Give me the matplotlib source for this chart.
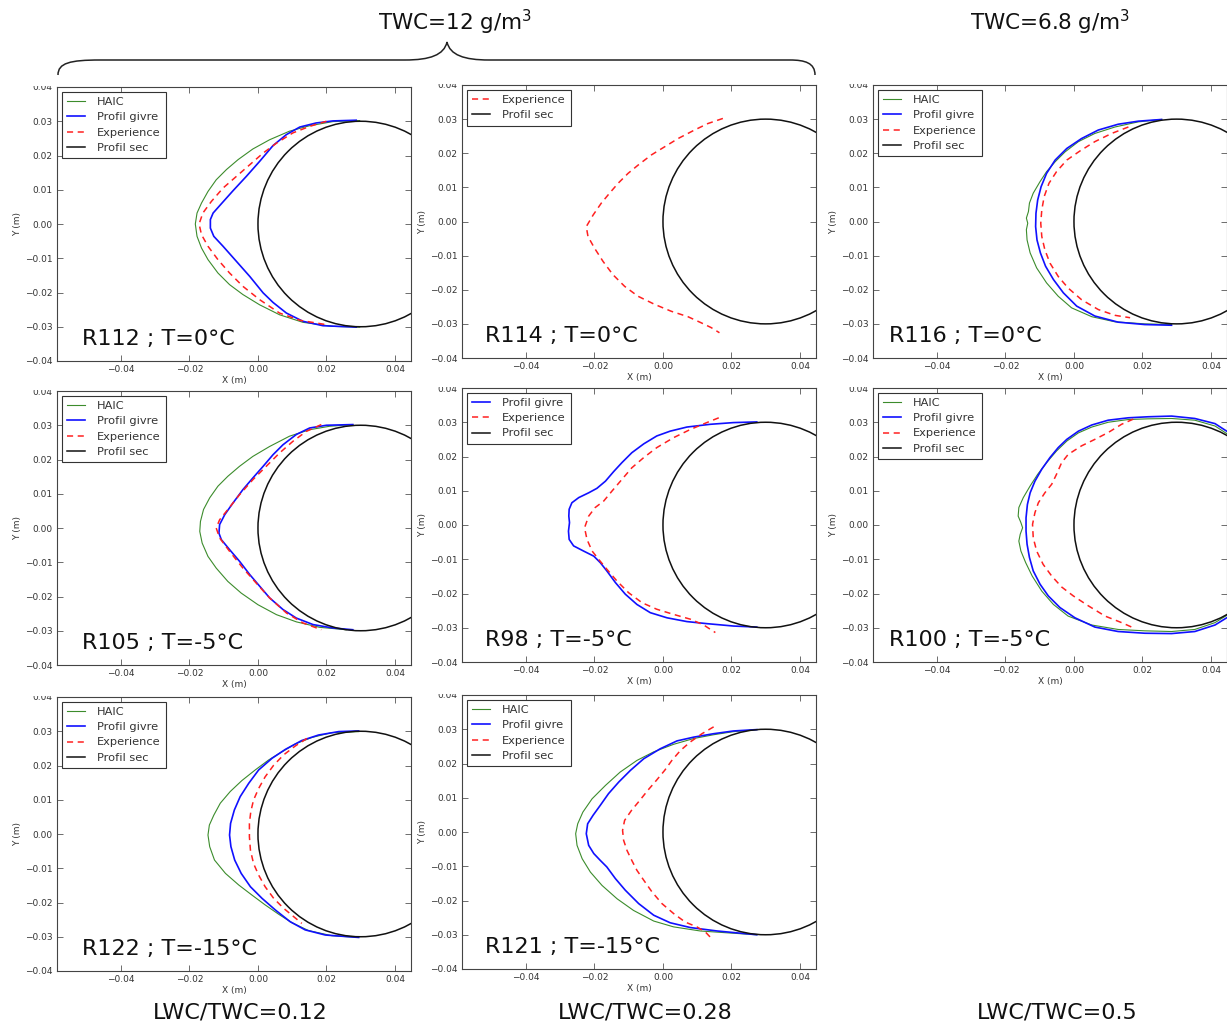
import matplotlib
matplotlib.use("Agg")
import matplotlib.pyplot as plt
from matplotlib.patches import Circle, PathPatch, Rectangle
from matplotlib.path import Path
from matplotlib.lines import Line2D

# ---------------- data (metres) ----------------
CYL_CENTER = (0.03, 0.0)
CYL_RADIUS = 0.03

# R112 ; T=0°C
R112_HAIC_X = [0.0297, 0.0219, 0.0151, 0.0092, 0.0034, -0.0015, -0.0058, -0.0092, -0.0122, -0.0146, -0.0165, -0.0178, -0.0183, -0.0178, -0.0165, -0.0146, -0.0117, -0.0083, -0.0044, 0.0005, 0.0063, 0.0131, 0.0219, 0.0297]
R112_HAIC_Y = [0.0302, 0.0299, 0.0287, 0.0271, 0.0246, 0.0219, 0.0188, 0.0159, 0.0129, 0.0095, 0.0061, 0.0032, 0.0000, -0.0036, -0.0070, -0.0104, -0.0143, -0.0177, -0.0206, -0.0236, -0.0265, -0.0287, -0.0299, -0.0301]
R112_GIVRE_X = [0.0287, 0.0219, 0.0170, 0.0122, 0.0083, 0.0044, 0.0005, -0.0034, -0.0073, -0.0107, -0.0131, -0.0139, -0.0139, -0.0129, -0.0102, -0.0063, -0.0024, 0.0015, 0.0044, 0.0083, 0.0131, 0.0190, 0.0287]
R112_GIVRE_Y = [0.0303, 0.0301, 0.0295, 0.0283, 0.0261, 0.0229, 0.0183, 0.0139, 0.0097, 0.0059, 0.0032, 0.0013, -0.0012, -0.0036, -0.0065, -0.0109, -0.0153, -0.0201, -0.0229, -0.0260, -0.0284, -0.0297, -0.0301]
R112_EXP_X = [0.0200, 0.0151, 0.0102, 0.0054, 0.0015, -0.0024, -0.0063, -0.0102, -0.0136, -0.0161, -0.0172, -0.0165, -0.0146, -0.0117, -0.0083, -0.0044, 0.0005, 0.0063, 0.0122, 0.0200]
R112_EXP_Y = [0.0300, 0.0285, 0.0266, 0.0236, 0.0207, 0.0173, 0.0139, 0.0105, 0.0066, 0.0032, 0.0000, -0.0031, -0.0065, -0.0104, -0.0143, -0.0182, -0.0221, -0.0260, -0.0281, -0.0294]

# R114 ; T=0°C
R114_EXP_X = [0.0175, 0.0131, 0.0092, 0.0044, 0.0005, -0.0034, -0.0073, -0.0102, -0.0131, -0.0156, -0.0180, -0.0204, -0.0224, -0.0219, -0.0200, -0.0175, -0.0146, -0.0112, -0.0073, -0.0024, 0.0024, 0.0073, 0.0112, 0.0141, 0.0165]
R114_EXP_Y = [0.0302, 0.0287, 0.0268, 0.0243, 0.0219, 0.0195, 0.0165, 0.0141, 0.0112, 0.0083, 0.0054, 0.0019, -0.0015, -0.0044, -0.0078, -0.0117, -0.0156, -0.0190, -0.0219, -0.0243, -0.0263, -0.0279, -0.0297, -0.0311, -0.0326]

# R116 ; T=0°C
R116_HAIC_X = [0.0256, 0.0188, 0.0120, 0.0061, 0.0013, -0.0026, -0.0055, -0.0080, -0.0099, -0.0119, -0.0130, -0.0133, -0.0139, -0.0135, -0.0139, -0.0137, -0.0128, -0.0109, -0.0080, -0.0046, -0.0007, 0.0052, 0.0120, 0.0207, 0.0285]
R116_HAIC_Y = [0.0299, 0.0292, 0.0277, 0.0258, 0.0234, 0.0204, 0.0175, 0.0146, 0.0117, 0.0083, 0.0054, 0.0029, 0.0010, -0.0005, -0.0024, -0.0054, -0.0092, -0.0136, -0.0180, -0.0219, -0.0253, -0.0279, -0.0294, -0.0300, -0.0302]
R116_GIVRE_X = [0.0256, 0.0188, 0.0129, 0.0071, 0.0022, -0.0021, -0.0055, -0.0080, -0.0096, -0.0106, -0.0111, -0.0112, -0.0108, -0.0098, -0.0083, -0.0060, -0.0031, 0.0008, 0.0061, 0.0129, 0.0207, 0.0285]
R116_GIVRE_Y = [0.0299, 0.0294, 0.0285, 0.0268, 0.0243, 0.0214, 0.0180, 0.0141, 0.0102, 0.0063, 0.0024, -0.0015, -0.0054, -0.0092, -0.0131, -0.0170, -0.0209, -0.0248, -0.0277, -0.0295, -0.0302, -0.0304]
R116_EXP_X = [0.0159, 0.0110, 0.0061, 0.0018, -0.0021, -0.0051, -0.0073, -0.0087, -0.0094, -0.0097, -0.0094, -0.0085, -0.0070, -0.0046, -0.0017, 0.0022, 0.0071, 0.0120, 0.0164]
R116_EXP_Y = [0.0277, 0.0258, 0.0234, 0.0207, 0.0180, 0.0146, 0.0112, 0.0073, 0.0034, -0.0005, -0.0044, -0.0083, -0.0122, -0.0161, -0.0195, -0.0229, -0.0258, -0.0275, -0.0282]

# R105 ; T=-5°C
R105_HAIC_X = [0.0277, 0.0209, 0.0151, 0.0092, 0.0034, -0.0015, -0.0054, -0.0088, -0.0117, -0.0141, -0.0159, -0.0168, -0.0170, -0.0163, -0.0146, -0.0122, -0.0088, -0.0049, 0.0000, 0.0054, 0.0112, 0.0180, 0.0258]
R105_HAIC_Y = [0.0302, 0.0297, 0.0287, 0.0268, 0.0238, 0.0209, 0.0180, 0.0151, 0.0122, 0.0088, 0.0054, 0.0019, -0.0010, -0.0044, -0.0083, -0.0117, -0.0156, -0.0190, -0.0224, -0.0253, -0.0274, -0.0290, -0.0297]
R105_GIVRE_X = [0.0277, 0.0200, 0.0151, 0.0112, 0.0073, 0.0044, 0.0015, -0.0015, -0.0044, -0.0073, -0.0097, -0.0112, -0.0114, -0.0107, -0.0083, -0.0054, -0.0024, 0.0005, 0.0034, 0.0073, 0.0112, 0.0161, 0.0219, 0.0277]
R105_GIVRE_Y = [0.0302, 0.0300, 0.0292, 0.0273, 0.0243, 0.0214, 0.0180, 0.0146, 0.0112, 0.0073, 0.0039, 0.0010, -0.0015, -0.0034, -0.0063, -0.0097, -0.0136, -0.0170, -0.0204, -0.0238, -0.0263, -0.0282, -0.0292, -0.0297]
R105_EXP_X = [0.0185, 0.0141, 0.0102, 0.0063, 0.0024, -0.0015, -0.0054, -0.0088, -0.0112, -0.0122, -0.0112, -0.0083, -0.0044, -0.0005, 0.0034, 0.0083, 0.0131, 0.0185]
R105_EXP_Y = [0.0302, 0.0282, 0.0253, 0.0219, 0.0180, 0.0141, 0.0097, 0.0054, 0.0024, 0.0000, -0.0029, -0.0068, -0.0117, -0.0161, -0.0204, -0.0248, -0.0277, -0.0297]

# R98 ; T=-5°C
R98_GIVRE_X = [0.0274, 0.0206, 0.0138, 0.0070, 0.0021, -0.0018, -0.0056, -0.0091, -0.0120, -0.0144, -0.0168, -0.0193, -0.0217, -0.0246, -0.0266, -0.0274, -0.0275, -0.0273, -0.0276, -0.0274, -0.0261, -0.0232, -0.0202, -0.0183, -0.0164, -0.0139, -0.0110, -0.0076, -0.0037, 0.0012, 0.0070, 0.0128, 0.0206, 0.0274]
R98_GIVRE_Y = [0.0301, 0.0299, 0.0294, 0.0286, 0.0274, 0.0260, 0.0237, 0.0211, 0.0182, 0.0156, 0.0128, 0.0107, 0.0094, 0.0080, 0.0065, 0.0046, 0.0026, 0.0007, -0.0018, -0.0042, -0.0061, -0.0076, -0.0091, -0.0110, -0.0134, -0.0168, -0.0202, -0.0232, -0.0256, -0.0271, -0.0282, -0.0288, -0.0295, -0.0298]
R98_EXP_X = [0.0163, 0.0128, 0.0080, 0.0031, -0.0018, -0.0056, -0.0091, -0.0120, -0.0149, -0.0173, -0.0198, -0.0217, -0.0229, -0.0222, -0.0207, -0.0188, -0.0164, -0.0134, -0.0100, -0.0061, -0.0018, 0.0031, 0.0080, 0.0119, 0.0153]
R98_EXP_Y = [0.0313, 0.0299, 0.0279, 0.0255, 0.0226, 0.0197, 0.0167, 0.0133, 0.0099, 0.0070, 0.0051, 0.0026, -0.0008, -0.0042, -0.0076, -0.0100, -0.0129, -0.0164, -0.0198, -0.0227, -0.0246, -0.0261, -0.0275, -0.0292, -0.0314]

# R100 ; T=-5°C
R100_HAIC_X = [0.0446, 0.0412, 0.0353, 0.0285, 0.0217, 0.0159, 0.0100, 0.0052, 0.0013, -0.0021, -0.0051, -0.0080, -0.0106, -0.0128, -0.0148, -0.0161, -0.0163, -0.0155, -0.0150, -0.0157, -0.0161, -0.0155, -0.0141, -0.0122, -0.0094, -0.0060, -0.0017, 0.0052, 0.0129, 0.0207, 0.0285, 0.0353, 0.0412, 0.0446]
R100_HAIC_Y = [0.0267, 0.0289, 0.0306, 0.0311, 0.0310, 0.0308, 0.0300, 0.0286, 0.0269, 0.0245, 0.0216, 0.0182, 0.0148, 0.0114, 0.0080, 0.0051, 0.0026, 0.0007, -0.0008, -0.0027, -0.0047, -0.0076, -0.0110, -0.0149, -0.0193, -0.0232, -0.0266, -0.0292, -0.0305, -0.0309, -0.0311, -0.0305, -0.0285, -0.0264]
R100_GIVRE_X = [0.0446, 0.0412, 0.0353, 0.0285, 0.0217, 0.0159, 0.0100, 0.0052, 0.0013, -0.0021, -0.0046, -0.0070, -0.0094, -0.0114, -0.0128, -0.0136, -0.0140, -0.0140, -0.0137, -0.0130, -0.0119, -0.0099, -0.0075, -0.0041, 0.0003, 0.0061, 0.0129, 0.0207, 0.0285, 0.0353, 0.0412, 0.0446]
R100_GIVRE_Y = [0.0274, 0.0296, 0.0311, 0.0318, 0.0316, 0.0313, 0.0306, 0.0292, 0.0274, 0.0250, 0.0226, 0.0197, 0.0163, 0.0128, 0.0094, 0.0060, 0.0021, -0.0018, -0.0056, -0.0095, -0.0134, -0.0173, -0.0207, -0.0241, -0.0271, -0.0298, -0.0311, -0.0316, -0.0317, -0.0311, -0.0292, -0.0271]
R100_EXP_X = [0.0173, 0.0139, 0.0100, 0.0061, 0.0022, -0.0017, -0.0036, -0.0051, -0.0065, -0.0085, -0.0104, -0.0114, -0.0121, -0.0119, -0.0109, -0.0090, -0.0065, -0.0036, -0.0002, 0.0042, 0.0091, 0.0139, 0.0173]
R100_EXP_Y = [0.0309, 0.0294, 0.0270, 0.0250, 0.0231, 0.0206, 0.0182, 0.0148, 0.0119, 0.0094, 0.0065, 0.0036, 0.0002, -0.0037, -0.0076, -0.0115, -0.0149, -0.0181, -0.0207, -0.0236, -0.0266, -0.0285, -0.0300]

# R122 ; T=-15°C
R122_HAIC_X = [0.0294, 0.0216, 0.0158, 0.0109, 0.0070, 0.0031, -0.0008, -0.0047, -0.0081, -0.0110, -0.0129, -0.0142, -0.0146, -0.0141, -0.0127, -0.0095, -0.0056, -0.0018, 0.0021, 0.0060, 0.0099, 0.0148, 0.0216, 0.0294]
R122_HAIC_Y = [0.0299, 0.0296, 0.0282, 0.0263, 0.0240, 0.0216, 0.0187, 0.0156, 0.0124, 0.0090, 0.0055, 0.0026, -0.0003, -0.0037, -0.0076, -0.0115, -0.0149, -0.0178, -0.0207, -0.0234, -0.0259, -0.0282, -0.0297, -0.0302]
R122_GIVRE_X = [0.0294, 0.0236, 0.0177, 0.0128, 0.0080, 0.0041, 0.0002, -0.0027, -0.0052, -0.0069, -0.0080, -0.0083, -0.0079, -0.0068, -0.0049, -0.0022, 0.0012, 0.0051, 0.0094, 0.0138, 0.0197, 0.0294]
R122_GIVRE_Y = [0.0301, 0.0299, 0.0289, 0.0273, 0.0247, 0.0221, 0.0187, 0.0148, 0.0109, 0.0070, 0.0031, -0.0003, -0.0037, -0.0076, -0.0115, -0.0154, -0.0188, -0.0222, -0.0256, -0.0280, -0.0295, -0.0302]
R122_EXP_X = [0.0143, 0.0109, 0.0075, 0.0046, 0.0021, 0.0002, -0.0013, -0.0021, -0.0025, -0.0025, -0.0022, -0.0013, 0.0002, 0.0021, 0.0046, 0.0075, 0.0104, 0.0128]
R122_EXP_Y = [0.0279, 0.0257, 0.0231, 0.0201, 0.0167, 0.0133, 0.0099, 0.0065, 0.0031, -0.0008, -0.0047, -0.0086, -0.0120, -0.0154, -0.0188, -0.0217, -0.0241, -0.0261]

# R121 ; T=-15°C
R121_HAIC_X = [0.0274, 0.0206, 0.0148, 0.0090, 0.0031, -0.0027, -0.0076, -0.0125, -0.0168, -0.0207, -0.0234, -0.0249, -0.0255, -0.0251, -0.0236, -0.0212, -0.0178, -0.0134, -0.0086, -0.0027, 0.0031, 0.0109, 0.0197, 0.0274]
R121_HAIC_Y = [0.0299, 0.0293, 0.0284, 0.0273, 0.0256, 0.0234, 0.0209, 0.0175, 0.0136, 0.0097, 0.0058, 0.0024, -0.0005, -0.0039, -0.0078, -0.0117, -0.0156, -0.0195, -0.0229, -0.0260, -0.0277, -0.0289, -0.0295, -0.0300]
R121_GIVRE_X = [0.0274, 0.0206, 0.0148, 0.0090, 0.0041, -0.0008, -0.0056, -0.0095, -0.0129, -0.0159, -0.0183, -0.0204, -0.0220, -0.0224, -0.0217, -0.0202, -0.0183, -0.0164, -0.0139, -0.0110, -0.0071, -0.0027, 0.0021, 0.0080, 0.0158, 0.0274]
R121_GIVRE_Y = [0.0299, 0.0295, 0.0287, 0.0277, 0.0266, 0.0243, 0.0214, 0.0180, 0.0146, 0.0112, 0.0078, 0.0049, 0.0024, -0.0005, -0.0039, -0.0063, -0.0083, -0.0102, -0.0136, -0.0170, -0.0209, -0.0243, -0.0265, -0.0279, -0.0289, -0.0300]
R121_EXP_X = [0.0148, 0.0114, 0.0080, 0.0051, 0.0026, 0.0005, -0.0019, -0.0044, -0.0068, -0.0092, -0.0112, -0.0118, -0.0115, -0.0105, -0.0091, -0.0076, -0.0056, -0.0032, -0.0003, 0.0031, 0.0065, 0.0099, 0.0124, 0.0140]
R121_EXP_Y = [0.0307, 0.0287, 0.0263, 0.0238, 0.0209, 0.0180, 0.0151, 0.0122, 0.0092, 0.0063, 0.0034, 0.0005, -0.0024, -0.0054, -0.0083, -0.0112, -0.0141, -0.0175, -0.0209, -0.0238, -0.0263, -0.0277, -0.0292, -0.0309]

PANEL_TITLES = ["R112 ; T=0°C", "R114 ; T=0°C", "R116 ; T=0°C",
                "R105 ; T=-5°C", "R98 ; T=-5°C", "R100 ; T=-5°C",
                "R122 ; T=-15°C", "R121 ; T=-15°C"]
TOP_LABELS = ["TWC=12 g/m$^3$", "TWC=6.8 g/m$^3$"]
BOTTOM_LABELS = ["LWC/TWC=0.12", "LWC/TWC=0.28", "LWC/TWC=0.5"]
LEGEND_NAMES = ["HAIC", "Profil givre", "Experience", "Profil sec"]
X_TICKS = [-0.04, -0.02, 0.00, 0.02, 0.04]
Y_TICKS = [-0.04, -0.03, -0.02, -0.01, 0.00, 0.01, 0.02, 0.03, 0.04]

panels = [
    [(R112_HAIC_X, R112_HAIC_Y), (R112_GIVRE_X, R112_GIVRE_Y), (R112_EXP_X, R112_EXP_Y)],
    [None, None, (R114_EXP_X, R114_EXP_Y)],
    [(R116_HAIC_X, R116_HAIC_Y), (R116_GIVRE_X, R116_GIVRE_Y), (R116_EXP_X, R116_EXP_Y)],
    [(R105_HAIC_X, R105_HAIC_Y), (R105_GIVRE_X, R105_GIVRE_Y), (R105_EXP_X, R105_EXP_Y)],
    [None, (R98_GIVRE_X, R98_GIVRE_Y), (R98_EXP_X, R98_EXP_Y)],
    [(R100_HAIC_X, R100_HAIC_Y), (R100_GIVRE_X, R100_GIVRE_Y), (R100_EXP_X, R100_EXP_Y)],
    [(R122_HAIC_X, R122_HAIC_Y), (R122_GIVRE_X, R122_GIVRE_Y), (R122_EXP_X, R122_EXP_Y)],
    [(R121_HAIC_X, R121_HAIC_Y), (R121_GIVRE_X, R121_GIVRE_Y), (R121_EXP_X, R121_EXP_Y)],
]

# ---------------- layout / style ----------------
W, H = 1227, 1030
fig = plt.figure(figsize=(W / 100, H / 100), dpi=100)
fig.patch.set_facecolor("white")

def fx(px):
    return px / W

def fy(py):
    return 1 - py / H

# axes boxes in pixels: left, top, right, bottom
boxes = [(57, 87, 411, 361), (462, 85, 816, 358), (873, 85, 1227, 358),
         (57, 391, 411, 665), (462, 388, 816, 662), (873, 388, 1227, 662),
         (57, 697, 411, 971), (462, 695, 816, 969)]
title_xfrac = [0.07, 0.065, 0.045] * 3

styles = [dict(color="#3c8c2c", lw=0.8, ls="-"),
          dict(color="#1010ff", lw=1.2, ls="-"),
          dict(color="#ff2020", lw=1.1, ls=(0, (4, 3)))]
sec_style = dict(color="#111111", lw=1.1)
txt_col = "#333333"

for i, (curves, box) in enumerate(zip(panels, boxes)):
    l, t, r, b = box
    ax = fig.add_axes([l / W, 1 - b / H, (r - l) / W, (b - t) / H])
    handles = []
    for k, c in enumerate(curves):
        if c is None:
            continue
        ln, = ax.plot(c[0], c[1], label=LEGEND_NAMES[k], **styles[k])
        handles.append(ln)
    circ = Circle(CYL_CENTER, CYL_RADIUS, fill=False, edgecolor=sec_style["color"],
                  lw=sec_style["lw"], zorder=3)
    ax.add_patch(circ)
    handles.append(Line2D([], [], label=LEGEND_NAMES[3], **sec_style))
    ax.set_xlim(-0.0587, 0.0447)
    ax.set_ylim(-0.04, 0.04)
    ax.set_xticks(X_TICKS)
    ax.set_yticks(Y_TICKS)
    ax.tick_params(direction="in", top=True, right=True, length=4, width=0.6,
                   labelsize=6.5, labelcolor=txt_col, color="#555555", pad=3)
    for s in ax.spines.values():
        s.set_color("#444444")
        s.set_linewidth(0.8)
    ax.set_xlabel("X (m)", fontsize=6.5, color=txt_col, labelpad=1)
    ax.set_ylabel("Y (m)", fontsize=6.5, color=txt_col, labelpad=2)
    leg = ax.legend(handles=handles, loc="upper left", fontsize=8.2, frameon=True,
                    fancybox=False, framealpha=1, edgecolor="#333333",
                    handlelength=1.6, handletextpad=1.0, borderpad=0.5,
                    labelspacing=0.45, borderaxespad=0.4)
    leg.get_frame().set_linewidth(0.8)
    for tx in leg.get_texts():
        tx.set_color(txt_col)
    ax.text(title_xfrac[i], 0.06, PANEL_TITLES[i], transform=ax.transAxes,
            fontsize=16, va="baseline", ha="left", color="#111111")
    # the composite image crops the top half of the highest y tick label
    fig.patches.append(Rectangle((fx(l - 40), fy(t - 1)), (40 - 3) / W, 10 / H,
                                 transform=fig.transFigure, facecolor="white",
                                 edgecolor="none", zorder=10))

# ---------------- annotations ----------------
fig.text(fx(455), fy(22), TOP_LABELS[0], fontsize=15.5, ha="center", va="center", color="#111111")
fig.text(fx(1050), fy(22), TOP_LABELS[1], fontsize=15.5, ha="center", va="center", color="#111111")
for xc, lab in zip([240, 645, 1057], BOTTOM_LABELS):
    fig.text(fx(xc), fy(1013), lab, fontsize=16, ha="center", va="center", color="#111111")

# curly brace over the two left columns
verts = [(58, 75), (58, 63), (70, 60), (100, 60),
         (405, 60), (430, 60), (444, 55), (447, 42),
         (450, 55), (464, 60), (489, 60), (790, 60),
         (805, 60), (815, 63), (815, 75)]
codes = [Path.MOVETO, Path.CURVE4, Path.CURVE4, Path.CURVE4,
         Path.LINETO, Path.CURVE4, Path.CURVE4, Path.CURVE4,
         Path.CURVE4, Path.CURVE4, Path.CURVE4, Path.LINETO,
         Path.CURVE4, Path.CURVE4, Path.CURVE4]
brace = Path([(fx(x), fy(y)) for x, y in verts], codes)
fig.patches.append(PathPatch(brace, transform=fig.transFigure, fill=False,
                             edgecolor="#222222", lw=1.1))

fig.savefig("out.png", dpi=100, facecolor="white")
